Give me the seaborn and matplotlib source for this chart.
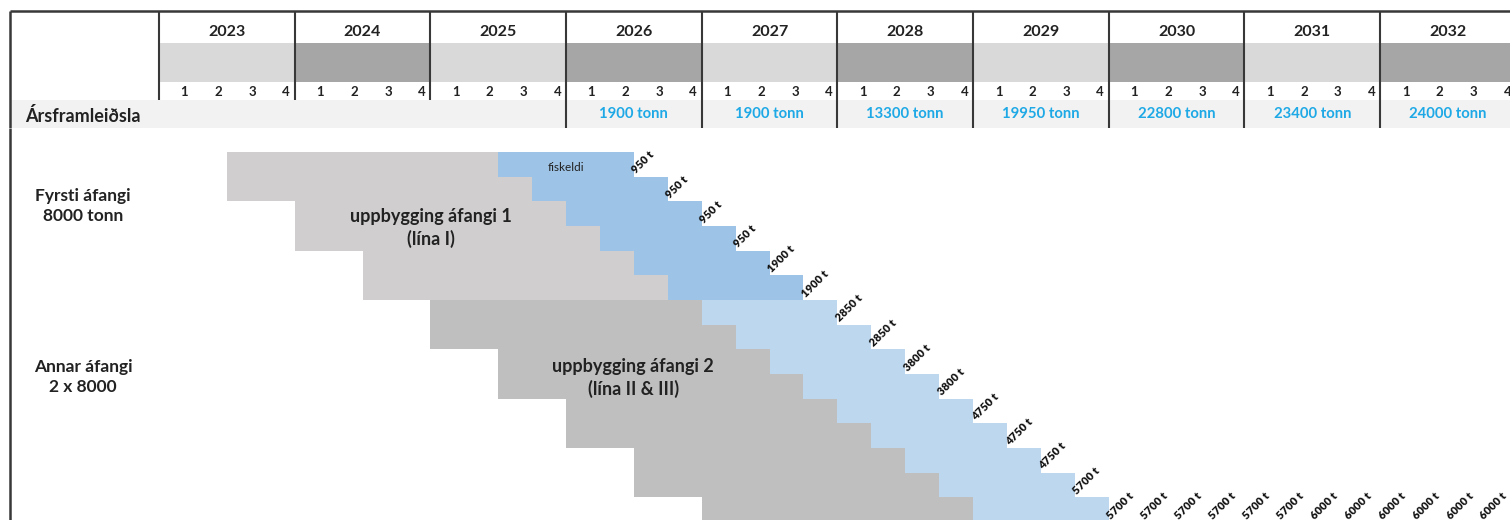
import numpy as np
import matplotlib
matplotlib.use("Agg")
import matplotlib.pyplot as plt
from matplotlib.colors import ListedColormap
import seaborn as sns

sns.set_style("white")
plt.rcParams["font.family"] = ["Lato", "DejaVu Sans"]

# ---------------- data ----------------
years = [2023, 2024, 2025, 2026, 2027, 2028, 2029, 2030, 2031, 2032]
quarter_labels = ["1", "2", "3", "4"]

prod_years = [2026, 2027, 2028, 2029, 2030, 2031, 2032]
prod_tonnes = [1900, 1900, 13300, 19950, 22800, 23400, 24000]

# quarter index counted from 2023 Q1
p1_build_start = [2, 2, 4, 4, 6, 6]
p1_fish_start = [10, 11, 12, 13, 14, 15]
p1_fish_end = [14, 15, 16, 17, 18, 19]
p1_output = [950, 950, 950, 950, 1900, 1900]

p2_build_start = [8, 8, 10, 10, 12, 12, 14, 14, 16]
p2_fish_start = [16, 17, 18, 19, 20, 21, 22, 23, 24]
p2_fish_end = [20, 21, 22, 23, 24, 25, 26, 27, 28]
p2_output = [2850, 2850, 3800, 3800, 4750, 4750, 4750, 5700, 5700]

tail_quarters = [29, 30, 31, 32, 33, 34, 35, 36, 37, 38, 39]
tail_output = [5700, 5700, 5700, 5700, 5700, 6000, 6000, 6000, 6000, 6000, 6000]

# ---------------- style ----------------
C_GRAY1 = "#d0cece"
C_BLUE1 = "#9dc3e6"
C_GRAY2 = "#bfbfbf"
C_BLUE2 = "#bdd7ee"
C_BAND_LIGHT = "#d9d9d9"
C_BAND_DARK = "#a6a6a6"
C_PROD_BG = "#f2f2f2"
C_LINE = "#383838"
C_TEXT = "#222222"
C_PROD_TEXT = "#1ea9e6"

W_PX, H_PX = 1510, 520
Q_PX = 33.92          # width of one quarter
X0_PX = 159           # left edge of 2023 Q1
ROW_TOP_PX = 152      # top of first timeline row
ROW_H_PX = 24.67
HEADER_BOTTOM_PX = 128

n_q = len(years) * 4
xlim = (-X0_PX / Q_PX, (W_PX - X0_PX) / Q_PX)
x_border = (10 - X0_PX) / Q_PX
x_label_col = (83 - X0_PX) / Q_PX

fig = plt.figure(figsize=(W_PX / 100, H_PX / 100), dpi=100)
hdr = fig.add_axes([0, (H_PX - HEADER_BOTTOM_PX) / H_PX, 1, HEADER_BOTTOM_PX / H_PX])
body = fig.add_axes([0, 0, 1, (H_PX - HEADER_BOTTOM_PX) / H_PX])

# ---------------- header ----------------
hdr.set_xlim(*xlim)
hdr.set_ylim(HEADER_BOTTOM_PX, 0)
hdr.axis("off")

year_start = [4 * i for i in range(len(years))]
band_colors = [C_BAND_LIGHT if i % 2 == 0 else C_BAND_DARK for i in range(len(years))]
hdr.bar(year_start, 39, width=4, bottom=43, align="edge", color=band_colors, linewidth=0)
hdr.bar([x_border], 28, width=[xlim[1] - x_border], bottom=100, align="edge",
        color=C_PROD_BG, linewidth=0)

for i, y in enumerate(years):
    hdr.text(year_start[i] + 2, 32, str(y), ha="center", va="center",
             fontsize=11.5, fontweight="bold", color=C_TEXT)
    for k, ql in enumerate(quarter_labels):
        hdr.text(year_start[i] + k + 0.75, 92.5, ql, ha="center", va="center",
                 fontsize=9.5, fontweight="bold", color=C_TEXT)

for y, t in zip(prod_years, prod_tonnes):
    i = years.index(y)
    hdr.text(year_start[i] + 2, 114.5, f"{t} tonn", ha="center", va="center",
             fontsize=10.7, fontweight="bold", color=C_PROD_TEXT)

hdr.text(x_border + 0.44, 116, "Ársframleiðsla", ha="left", va="center",
         fontsize=13, fontweight="bold", color=C_TEXT)

first_prod = prod_years[0]
for i, y in enumerate(years + [years[-1] + 1]):
    low = HEADER_BOTTOM_PX if y >= first_prod else 100
    hdr.vlines(4 * i, 11, low, color=C_LINE, linewidth=1.5)
hdr.hlines(11, x_border, xlim[1], color=C_LINE, linewidth=1.8)
hdr.vlines(x_border, 11, HEADER_BOTTOM_PX, color=C_LINE, linewidth=1.8)

# ---------------- timeline body ----------------
n_rows = len(p1_output) + len(p2_output)
grid = np.zeros((n_rows, n_q))
for r, (b, s, e) in enumerate(zip(p1_build_start, p1_fish_start, p1_fish_end)):
    grid[r, b:s] = 1
    grid[r, s:e] = 2
off = len(p1_output)
for r, (b, s, e) in enumerate(zip(p2_build_start, p2_fish_start, p2_fish_end)):
    grid[off + r, b:s] = 3
    grid[off + r, s:e] = 4

cmap = ListedColormap([C_GRAY1, C_BLUE1, C_GRAY2, C_BLUE2])
sns.heatmap(grid, mask=(grid == 0), cmap=cmap, vmin=0.5, vmax=4.5, cbar=False,
            linewidths=0, xticklabels=False, yticklabels=False, ax=body)

body.set_xlim(*xlim)
body.set_ylim((H_PX - ROW_TOP_PX) / ROW_H_PX, (HEADER_BOTTOM_PX - ROW_TOP_PX) / ROW_H_PX)
body.axis("off")
body.vlines(x_border, body.get_ylim()[1], body.get_ylim()[0], color=C_LINE, linewidth=1.8)

# output labels at the end of each farming bar
label_kw = dict(rotation=45, rotation_mode="anchor", ha="left", va="bottom",
                fontsize=8, fontweight="heavy", color="#111111",
                textcoords="offset pixels", xytext=(4, 1), annotation_clip=False)
for r, (e, v) in enumerate(zip(p1_fish_end, p1_output)):
    body.annotate(f"{v} t", (e, r + 1), **label_kw)
for r, (e, v) in enumerate(zip(p2_fish_end, p2_output)):
    body.annotate(f"{v} t", (e, off + r + 1), **label_kw)
for q, v in zip(tail_quarters, tail_output):
    body.annotate(f"{v} t", (q, n_rows), **label_kw)

body.text(p1_fish_start[0] + 2, 0.64, "fiskeldi", ha="center", va="center",
          fontsize=8.5, color=C_TEXT)
body.text(8.02, 3.08, "uppbygging áfangi 1\n(lína I)", ha="center", va="center",
          fontsize=13, fontweight="bold", color=C_TEXT, linespacing=1.3)
body.text(13.98, 9.16, "uppbygging áfangi 2\n(lína II & III)", ha="center", va="center",
          fontsize=13, fontweight="bold", color=C_TEXT, linespacing=1.3)
body.text(x_label_col, 2.2, "Fyrsti áfangi\n8000 tonn", ha="center", va="center",
          fontsize=12.5, fontweight="bold", color=C_TEXT, linespacing=1.3)
body.text(x_label_col, 9.12, "Annar áfangi\n2 x 8000", ha="center", va="center",
          fontsize=12.5, fontweight="bold", color=C_TEXT, linespacing=1.3)

fig.savefig("out.png", dpi=100)
